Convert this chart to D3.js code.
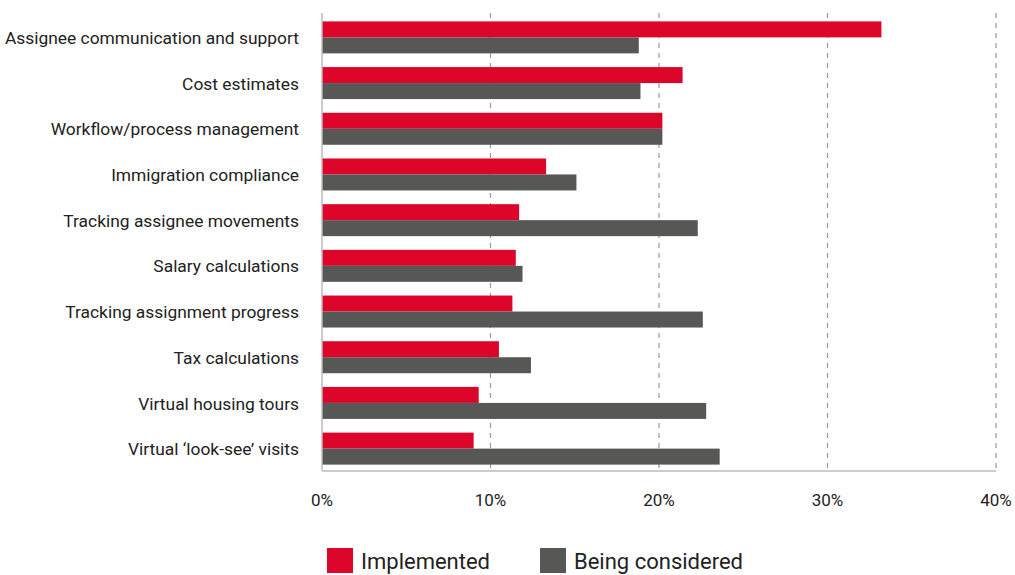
<!DOCTYPE html>
<html>
<head>
<meta charset="utf-8">
<script src="https://cdn.jsdelivr.net/npm/d3@7"></script>
<style>
  body { margin: 0; background: #fff; }
  svg text { font-family: Roboto, "Noto Sans", sans-serif; fill: #222; }
</style>
</head>
<body>
<svg id="chart" width="1015" height="575"></svg>
<script>
var categories = [
  'Assignee communication and support',
  'Cost estimates',
  'Workflow/process management',
  'Immigration compliance',
  'Tracking assignee movements',
  'Salary calculations',
  'Tracking assignment progress',
  'Tax calculations',
  'Virtual housing tours',
  'Virtual \u2018look-see\u2019 visits'
];
var implemented = [33.2, 21.4, 20.2, 13.3, 11.7, 11.5, 11.3, 10.5, 9.3, 9.0];
var considered  = [18.8, 18.9, 20.2, 15.1, 22.3, 11.9, 22.6, 12.4, 22.8, 23.6];
var seriesNames = ['Implemented', 'Being considered'];
var seriesColors = ['#de052b', '#575756'];
var xTicks = [0, 10, 20, 30, 40];

var svg = d3.select('#chart');
var margin = {left: 322, right: 19, top: 15, bottom: 104};
var W = 1015, H = 575;

var x = d3.scaleLinear().domain([0, 40]).range([margin.left, W - margin.right]);
var y = d3.scaleBand().domain(categories).range([margin.top, H - margin.bottom]).paddingInner(0.3).paddingOuter(0.14);

// grid
svg.append('g').selectAll('line')
  .data(xTicks.slice(1))
  .enter().append('line')
  .attr('x1', d => x(d)).attr('x2', d => x(d))
  .attr('y1', 13).attr('y2', H - margin.bottom)
  .attr('stroke', '#999').attr('stroke-width', 1.2)
  .attr('stroke-dasharray', '5,5');

var barH = y.bandwidth() / 2;
var rows = svg.append('g').selectAll('g')
  .data(categories)
  .enter().append('g')
  .attr('transform', d => 'translate(0,' + y(d) + ')');

rows.append('rect')
  .attr('x', x(0)).attr('y', 0)
  .attr('width', (d, i) => x(implemented[i]) - x(0))
  .attr('height', barH)
  .attr('fill', seriesColors[0]);

rows.append('rect')
  .attr('x', x(0)).attr('y', barH)
  .attr('width', (d, i) => x(considered[i]) - x(0))
  .attr('height', barH)
  .attr('fill', seriesColors[1]);

rows.append('text')
  .text(d => d)
  .attr('x', 299).attr('y', barH + 2)
  .attr('text-anchor', 'end')
  .attr('dominant-baseline', 'middle')
  .style('font-size', '17.4px');

// axes lines
svg.append('line')
  .attr('x1', x(0)).attr('x2', x(0))
  .attr('y1', 13).attr('y2', H - margin.bottom)
  .attr('stroke', '#bbb').attr('stroke-width', 1.5);
svg.append('line')
  .attr('x1', x(0)).attr('x2', x(40))
  .attr('y1', H - margin.bottom).attr('y2', H - margin.bottom)
  .attr('stroke', '#bbb').attr('stroke-width', 1.5);

svg.append('g').selectAll('text')
  .data(xTicks)
  .enter().append('text')
  .text(d => d + '%')
  .attr('x', d => x(d)).attr('y', 506)
  .attr('text-anchor', 'middle')
  .style('font-size', '17px');

// legend
var legend = svg.append('g').selectAll('g')
  .data(seriesNames)
  .enter().append('g')
  .attr('transform', (d, i) => 'translate(' + [327, 540][i] + ',548)');
legend.append('rect')
  .attr('width', 26).attr('height', 25)
  .attr('fill', (d, i) => seriesColors[i]);
legend.append('text')
  .text(d => d)
  .attr('x', 34).attr('y', 21)
  .style('font-size', '22px');
</script>
</body>
</html>
